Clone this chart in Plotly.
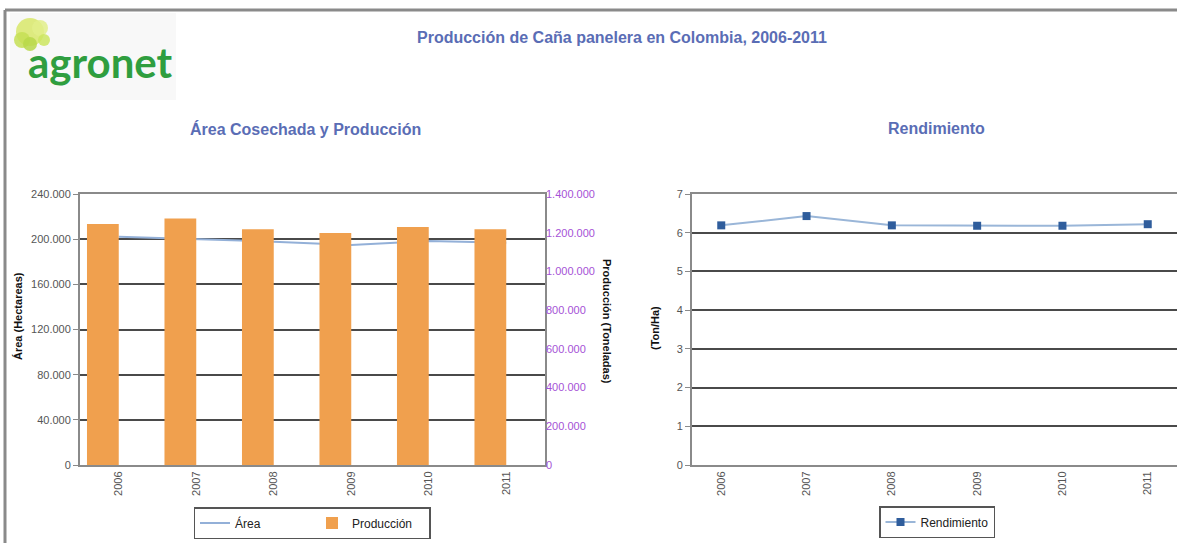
import plotly.graph_objects as go

years = ["2006", "2007", "2008", "2009", "2010", "2011"]
area_ha = [202200, 199900, 197800, 194800, 198400, 196900]
produccion_t = [1245000, 1274000, 1218000, 1198000, 1229000, 1218000]
rendimiento = [6.19, 6.43, 6.19, 6.18, 6.18, 6.22]

W, H = 1177, 543
FONT = "Liberation Sans, Arial, sans-serif"
TITLE_C = "#5a6db5"
GRID_C = "#4a4a4a"
AX_C = "#8a8a8a"
TICK_C = "#555555"

fig = go.Figure()

# Left chart: Producción bars (secondary axis) and Área line
fig.add_trace(go.Bar(
    x=years, y=produccion_t, name="Producción", xaxis="x", yaxis="y2",
    marker=dict(color="#f0a04e", line=dict(width=0)),
    width=0.41, offset=-0.41, legend="legend",
))
fig.add_trace(go.Scatter(
    x=years, y=area_ha, name="Área", mode="lines", xaxis="x", yaxis="y",
    line=dict(color="#93b0d8", width=2), legend="legend",
))

# Right chart: Rendimiento
fig.add_trace(go.Scatter(
    x=years, y=rendimiento, name="Rendimiento", mode="lines+markers",
    xaxis="x2", yaxis="y3",
    line=dict(color="#9ab6d8", width=2),
    marker=dict(symbol="square", size=8, color="#2f5d9c"),
    legend="legend2",
))

y_dom = [1 - 465 / H, 1 - 194 / H]
left_dom = [80 / W, 545 / W]
right_dom = [692 / W, 1.0]

xcommon = dict(
    type="category", tickangle=-90, showgrid=False, showline=True,
    linecolor=AX_C, linewidth=2, mirror=True, ticks="",
    tickfont=dict(family=FONT, size=11, color=TICK_C), fixedrange=True,
    automargin=False,
)

fig.update_layout(
    width=W, height=H,
    margin=dict(l=0, r=0, t=0, b=0, autoexpand=False),
    paper_bgcolor="white", plot_bgcolor="white",
    separators=",.",
    font=dict(family=FONT, color="#333"),
    barmode="overlay",
    xaxis=dict(domain=left_dom, anchor="y", **xcommon),
    yaxis=dict(
        domain=y_dom, anchor="x", range=[0, 240000], dtick=40000,
        tickformat=",d", showgrid=True, gridcolor=GRID_C, gridwidth=1.5,
        showline=True, linecolor=AX_C, linewidth=2, mirror=True,
        ticks="outside", ticklen=5, tickcolor=AX_C, zeroline=False,
        tickfont=dict(family=FONT, size=11, color=TICK_C), automargin=False,
    ),
    yaxis2=dict(
        overlaying="y", side="right", anchor="x", range=[0, 1400000],
        dtick=200000, tickformat=",d", showgrid=False, zeroline=False,
        showline=False, ticks="", automargin=False,
        tickfont=dict(family=FONT, size=11, color="#a552d6"),
    ),
    xaxis2=dict(domain=right_dom, anchor="y3", **xcommon),
    yaxis3=dict(
        domain=y_dom, anchor="x2", range=[0, 7], dtick=1,
        showgrid=True, gridcolor=GRID_C, gridwidth=1.5,
        showline=True, linecolor=AX_C, linewidth=2, mirror=True,
        ticks="outside", ticklen=5, tickcolor=AX_C, zeroline=False,
        tickfont=dict(family=FONT, size=11, color=TICK_C), automargin=False,
    ),
    legend=dict(
        orientation="h", x=312 / W, xanchor="center", y=1 - 507 / H, yanchor="top",
        bordercolor="#555", borderwidth=1.5, bgcolor="white",
        font=dict(family=FONT, size=12, color="#222"),
        itemwidth=30, entrywidth=72,
        tracegroupgap=0, traceorder="reversed",
    ),
    legend2=dict(
        orientation="h", x=937 / W, xanchor="center", y=1 - 506 / H, yanchor="top",
        bordercolor="#555", borderwidth=1.5, bgcolor="white",
        font=dict(family=FONT, size=12, color="#222"), itemwidth=30,
    ),
    showlegend=True,
)

annotations = [
    dict(text="<b>Producción de Caña panelera en Colombia, 2006-2011</b>",
         x=622 / W, y=1 - 37 / H, font=dict(size=16, color=TITLE_C)),
    dict(text="<b>Área Cosechada y Producción</b>",
         x=305 / W, y=1 - 129 / H, font=dict(size=16, color=TITLE_C)),
    dict(text="<b>Rendimiento</b>",
         x=936 / W, y=1 - 129 / H, font=dict(size=16, color=TITLE_C)),
    dict(text="<b>Área (Hectareas)</b>", textangle=-90,
         x=18 / W, y=1 - 316 / H, font=dict(size=11, color="#111")),
    dict(text="<b>Producción (Toneladas)</b>", textangle=90,
         x=607 / W, y=1 - 321 / H, font=dict(size=11, color="#111")),
    dict(text="<b>(Ton/Ha)</b>", textangle=-90,
         x=655 / W, y=1 - 328 / H, font=dict(size=11, color="#111")),
    dict(text="<b>agronet</b>", x=100 / W, y=1 - 62 / H,
         font=dict(size=42, color="#2f9e3f", family="Lato, sans-serif")),
]
for a in annotations:
    a.update(xref="paper", yref="paper", showarrow=False,
             xanchor="center", yanchor="middle")
    a["font"].setdefault("family", FONT)

shapes = [
    # outer frame
    dict(type="line", x0=5 / W, x1=1, y0=1 - 10 / H, y1=1 - 10 / H,
         line=dict(color="#8a8a8a", width=3)),
    dict(type="line", x0=5 / W, x1=5 / W, y0=0, y1=1 - 10 / H,
         line=dict(color="#8a8a8a", width=3)),
    # logo background
    dict(type="rect", x0=10 / W, x1=176 / W, y0=1 - 100 / H, y1=1 - 13 / H,
         fillcolor="#f8f8f8", line=dict(width=0), layer="below"),
]
# logo tree crown (decorative)
crown = [(30, 32, 14, "#d8e86a"), (22, 40, 8, "#c6df55"), (40, 28, 8, "#e2ee8a"),
         (30, 44, 7, "#b9d84a"), (44, 40, 6, "#cde660")]
for cx, cy, r, c in crown:
    shapes.append(dict(type="circle", x0=(cx - r) / W, x1=(cx + r) / W,
                       y0=1 - (cy + r) / H, y1=1 - (cy - r) / H,
                       fillcolor=c, line=dict(width=0), opacity=0.85))
for s in shapes:
    s.update(xref="paper", yref="paper")

fig.update_layout(annotations=annotations, shapes=shapes)

fig.write_html("out.html")
